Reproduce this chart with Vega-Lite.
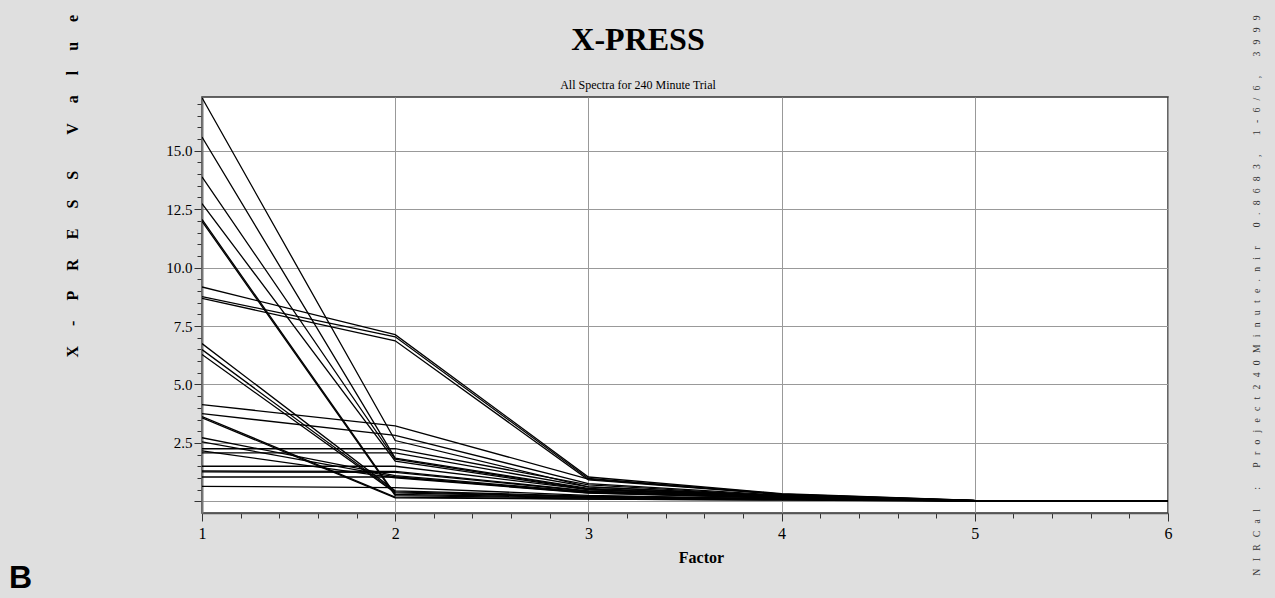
{
  "$schema": "https://vega.github.io/schema/vega-lite/v6.json",
  "autosize": "none",
  "width": 966,
  "height": 416,
  "padding": {"left": 202, "top": 97, "right": 107, "bottom": 85},
  "background": "#dfdfdf",
  "title": {
    "text": "X-PRESS",
    "subtitle": "All Spectra for 240 Minute Trial",
    "font": "Liberation Serif",
    "fontSize": 32,
    "fontWeight": "bold",
    "color": "black",
    "subtitleFont": "Liberation Serif",
    "subtitleFontSize": 12,
    "subtitleColor": "black",
    "anchor": "middle",
    "dx": -47,
    "dy": 86,
    "offset": 8,
    "subtitlePadding": 23
  },
  "config": {
    "view": {"fill": "white", "stroke": "#333", "strokeWidth": 1.5},
    "axis": {
      "labelFont": "Liberation Serif",
      "titleFont": "Liberation Serif",
      "labelColor": "black",
      "titleColor": "black"
    }
  },
  "data": {
    "values": [
      {"id": 1, "factor": 1, "value": 17.27}, {"id": 1, "factor": 2, "value": 2.6}, {"id": 1, "factor": 3, "value": 0.62}, {"id": 1, "factor": 4, "value": 0.24}, {"id": 1, "factor": 5, "value": 0.03}, {"id": 1, "factor": 6, "value": 0.01},
      {"id": 2, "factor": 1, "value": 15.59}, {"id": 2, "factor": 2, "value": 1.85}, {"id": 2, "factor": 3, "value": 0.55}, {"id": 2, "factor": 4, "value": 0.22}, {"id": 2, "factor": 5, "value": 0.03}, {"id": 2, "factor": 6, "value": 0.01},
      {"id": 3, "factor": 1, "value": 13.88}, {"id": 3, "factor": 2, "value": 1.8}, {"id": 3, "factor": 3, "value": 0.52}, {"id": 3, "factor": 4, "value": 0.2}, {"id": 3, "factor": 5, "value": 0.03}, {"id": 3, "factor": 6, "value": 0.01},
      {"id": 4, "factor": 1, "value": 12.74}, {"id": 4, "factor": 2, "value": 1.72}, {"id": 4, "factor": 3, "value": 0.5}, {"id": 4, "factor": 4, "value": 0.19}, {"id": 4, "factor": 5, "value": 0.02}, {"id": 4, "factor": 6, "value": 0.01},
      {"id": 5, "factor": 1, "value": 12.06}, {"id": 5, "factor": 2, "value": 0.3}, {"id": 5, "factor": 3, "value": 0.16}, {"id": 5, "factor": 4, "value": 0.1}, {"id": 5, "factor": 5, "value": 0.02}, {"id": 5, "factor": 6, "value": 0.0},
      {"id": 6, "factor": 1, "value": 11.98}, {"id": 6, "factor": 2, "value": 0.24}, {"id": 6, "factor": 3, "value": 0.14}, {"id": 6, "factor": 4, "value": 0.09}, {"id": 6, "factor": 5, "value": 0.02}, {"id": 6, "factor": 6, "value": 0.0},
      {"id": 7, "factor": 1, "value": 9.17}, {"id": 7, "factor": 2, "value": 7.13}, {"id": 7, "factor": 3, "value": 1.04}, {"id": 7, "factor": 4, "value": 0.33}, {"id": 7, "factor": 5, "value": 0.04}, {"id": 7, "factor": 6, "value": 0.01},
      {"id": 8, "factor": 1, "value": 8.76}, {"id": 8, "factor": 2, "value": 7.04}, {"id": 8, "factor": 3, "value": 0.98}, {"id": 8, "factor": 4, "value": 0.31}, {"id": 8, "factor": 5, "value": 0.04}, {"id": 8, "factor": 6, "value": 0.01},
      {"id": 9, "factor": 1, "value": 8.68}, {"id": 9, "factor": 2, "value": 6.87}, {"id": 9, "factor": 3, "value": 0.92}, {"id": 9, "factor": 4, "value": 0.29}, {"id": 9, "factor": 5, "value": 0.03}, {"id": 9, "factor": 6, "value": 0.01},
      {"id": 10, "factor": 1, "value": 6.75}, {"id": 10, "factor": 2, "value": 0.45}, {"id": 10, "factor": 3, "value": 0.22}, {"id": 10, "factor": 4, "value": 0.12}, {"id": 10, "factor": 5, "value": 0.02}, {"id": 10, "factor": 6, "value": 0.0},
      {"id": 11, "factor": 1, "value": 6.49}, {"id": 11, "factor": 2, "value": 0.4}, {"id": 11, "factor": 3, "value": 0.2}, {"id": 11, "factor": 4, "value": 0.11}, {"id": 11, "factor": 5, "value": 0.02}, {"id": 11, "factor": 6, "value": 0.0},
      {"id": 12, "factor": 1, "value": 6.28}, {"id": 12, "factor": 2, "value": 0.36}, {"id": 12, "factor": 3, "value": 0.18}, {"id": 12, "factor": 4, "value": 0.1}, {"id": 12, "factor": 5, "value": 0.02}, {"id": 12, "factor": 6, "value": 0.0},
      {"id": 13, "factor": 1, "value": 4.14}, {"id": 13, "factor": 2, "value": 3.23}, {"id": 13, "factor": 3, "value": 0.95}, {"id": 13, "factor": 4, "value": 0.3}, {"id": 13, "factor": 5, "value": 0.03}, {"id": 13, "factor": 6, "value": 0.01},
      {"id": 14, "factor": 1, "value": 3.75}, {"id": 14, "factor": 2, "value": 2.82}, {"id": 14, "factor": 3, "value": 0.76}, {"id": 14, "factor": 4, "value": 0.26}, {"id": 14, "factor": 5, "value": 0.03}, {"id": 14, "factor": 6, "value": 0.01},
      {"id": 15, "factor": 1, "value": 3.63}, {"id": 15, "factor": 2, "value": 0.18}, {"id": 15, "factor": 3, "value": 0.1}, {"id": 15, "factor": 4, "value": 0.06}, {"id": 15, "factor": 5, "value": 0.01}, {"id": 15, "factor": 6, "value": 0.0},
      {"id": 16, "factor": 1, "value": 3.57}, {"id": 16, "factor": 2, "value": 0.15}, {"id": 16, "factor": 3, "value": 0.09}, {"id": 16, "factor": 4, "value": 0.05}, {"id": 16, "factor": 5, "value": 0.01}, {"id": 16, "factor": 6, "value": 0.0},
      {"id": 17, "factor": 1, "value": 2.72}, {"id": 17, "factor": 2, "value": 1.1}, {"id": 17, "factor": 3, "value": 0.4}, {"id": 17, "factor": 4, "value": 0.16}, {"id": 17, "factor": 5, "value": 0.02}, {"id": 17, "factor": 6, "value": 0.0},
      {"id": 18, "factor": 1, "value": 2.54}, {"id": 18, "factor": 2, "value": 1.05}, {"id": 18, "factor": 3, "value": 0.38}, {"id": 18, "factor": 4, "value": 0.15}, {"id": 18, "factor": 5, "value": 0.02}, {"id": 18, "factor": 6, "value": 0.0},
      {"id": 19, "factor": 1, "value": 2.25}, {"id": 19, "factor": 2, "value": 2.25}, {"id": 19, "factor": 3, "value": 0.7}, {"id": 19, "factor": 4, "value": 0.23}, {"id": 19, "factor": 5, "value": 0.03}, {"id": 19, "factor": 6, "value": 0.01},
      {"id": 20, "factor": 1, "value": 2.16}, {"id": 20, "factor": 2, "value": 1.0}, {"id": 20, "factor": 3, "value": 0.35}, {"id": 20, "factor": 4, "value": 0.14}, {"id": 20, "factor": 5, "value": 0.02}, {"id": 20, "factor": 6, "value": 0.0},
      {"id": 21, "factor": 1, "value": 2.07}, {"id": 21, "factor": 2, "value": 2.07}, {"id": 21, "factor": 3, "value": 0.62}, {"id": 21, "factor": 4, "value": 0.2}, {"id": 21, "factor": 5, "value": 0.03}, {"id": 21, "factor": 6, "value": 0.01},
      {"id": 22, "factor": 1, "value": 1.5}, {"id": 22, "factor": 2, "value": 1.5}, {"id": 22, "factor": 3, "value": 0.5}, {"id": 22, "factor": 4, "value": 0.18}, {"id": 22, "factor": 5, "value": 0.02}, {"id": 22, "factor": 6, "value": 0.0},
      {"id": 23, "factor": 1, "value": 1.3}, {"id": 23, "factor": 2, "value": 1.28}, {"id": 23, "factor": 3, "value": 0.45}, {"id": 23, "factor": 4, "value": 0.17}, {"id": 23, "factor": 5, "value": 0.02}, {"id": 23, "factor": 6, "value": 0.0},
      {"id": 24, "factor": 1, "value": 1.26}, {"id": 24, "factor": 2, "value": 1.24}, {"id": 24, "factor": 3, "value": 0.43}, {"id": 24, "factor": 4, "value": 0.16}, {"id": 24, "factor": 5, "value": 0.02}, {"id": 24, "factor": 6, "value": 0.0},
      {"id": 25, "factor": 1, "value": 1.04}, {"id": 25, "factor": 2, "value": 1.04}, {"id": 25, "factor": 3, "value": 0.36}, {"id": 25, "factor": 4, "value": 0.14}, {"id": 25, "factor": 5, "value": 0.02}, {"id": 25, "factor": 6, "value": 0.0},
      {"id": 26, "factor": 1, "value": 0.64}, {"id": 26, "factor": 2, "value": 0.59}, {"id": 26, "factor": 3, "value": 0.25}, {"id": 26, "factor": 4, "value": 0.1}, {"id": 26, "factor": 5, "value": 0.01}, {"id": 26, "factor": 6, "value": 0.0}
    ]
  },
  "resolve": {"axis": {"x": "independent", "y": "independent"}},
  "layer": [
    {
      "mark": {"type": "line", "color": "black", "strokeWidth": 1.3, "clip": true},
      "encoding": {
        "x": {
          "field": "factor",
          "type": "quantitative",
          "scale": {"domain": [1, 6], "nice": false, "zero": false},
          "axis": {
            "orient": "bottom",
            "values": [1, 1.2, 1.4, 1.6, 1.8, 2, 2.2, 2.4, 2.6, 2.8, 3, 3.2, 3.4, 3.6, 3.8, 4, 4.2, 4.4, 4.6, 4.8, 5, 5.2, 5.4, 5.6, 5.8, 6],
            "grid": true,
            "gridColor": "#999999",
            "gridWidth": 1,
            "gridOpacity": {"condition": {"test": "abs(datum.value - round(datum.value)) < 0.01", "value": 1}, "value": 0},
            "tickSize": {"condition": {"test": "abs(datum.value - round(datum.value)) < 0.01", "value": 8}, "value": 5},
            "tickColor": "#333333",
            "domainColor": "#555555",
            "domainWidth": 1.5,
            "labelExpr": "abs(datum.value - round(datum.value)) < 0.01 ? format(datum.value, 'd') : ''",
            "labelFlush": false,
            "labelOverlap": false,
            "labelFontSize": 16,
            "labelPadding": 4,
            "title": "Factor",
            "titleFontSize": 16,
            "titleFontWeight": "bold",
            "titleX": 499,
            "titlePadding": 8
          }
        },
        "y": {
          "field": "value",
          "type": "quantitative",
          "scale": {"domain": [-0.5, 17.3], "nice": false, "zero": false},
          "axis": {
            "orient": "left",
            "values": [0, 0.5, 1, 1.5, 2, 2.5, 3, 3.5, 4, 4.5, 5, 5.5, 6, 6.5, 7, 7.5, 8, 8.5, 9, 9.5, 10, 10.5, 11, 11.5, 12, 12.5, 13, 13.5, 14, 14.5, 15, 15.5, 16, 16.5, 17],
            "grid": true,
            "gridColor": "#999999",
            "gridWidth": 1,
            "gridOpacity": {"condition": {"test": "datum.value % 2.5 == 0", "value": 1}, "value": 0},
            "tickSize": {"condition": {"test": "datum.value % 2.5 == 0", "value": 8}, "value": 5},
            "tickColor": "#333333",
            "domainColor": "#777777",
            "domainWidth": 2,
            "labelExpr": "datum.value > 0 && datum.value % 2.5 == 0 ? format(datum.value, '.1f') : ''",
            "labelOverlap": false,
            "labelFontSize": 15,
            "labelPadding": 2,
            "title": "X\u00a0\u00a0\u00a0\u00a0\u00a0-\u00a0\u00a0\u00a0\u00a0\u00a0P\u00a0\u00a0\u00a0\u00a0\u00a0R\u00a0\u00a0\u00a0\u00a0\u00a0E\u00a0\u00a0\u00a0\u00a0\u00a0S\u00a0\u00a0\u00a0\u00a0\u00a0S\u00a0\u00a0\u00a0\u00a0\u00a0\u00a0\u00a0\u00a0\u00a0V\u00a0\u00a0\u00a0\u00a0\u00a0a\u00a0\u00a0\u00a0\u00a0\u00a0l\u00a0\u00a0\u00a0\u00a0\u00a0u\u00a0\u00a0\u00a0\u00a0\u00a0e",
            "titleFontSize": 16,
            "titleFontWeight": "bold",
            "titleAngle": 270,
            "titleAlign": "left",
            "titleBaseline": "middle",
            "titleX": -130,
            "titleY": 260
          }
        },
        "detail": {"field": "id", "type": "nominal"}
      }
    },
    {
      "mark": {"type": "point", "opacity": 0},
      "encoding": {
        "x": {
          "field": "factor",
          "type": "quantitative",
          "axis": {
            "orient": "bottom",
            "labels": false,
            "ticks": false,
            "domain": false,
            "grid": false,
            "title": "B",
            "titleFont": "Liberation Sans",
            "titleFontSize": 32,
            "titleFontWeight": "bold",
            "titleAlign": "center",
            "titleBaseline": "alphabetic",
            "titleX": -182,
            "titleY": 74
          }
        },
        "y": {
          "field": "value",
          "type": "quantitative",
          "axis": {
            "orient": "right",
            "labels": false,
            "ticks": false,
            "domain": false,
            "grid": false,
            "title": "N\u00a0\u00a0\u00a0I\u00a0\u00a0\u00a0R\u00a0\u00a0\u00a0C\u00a0\u00a0\u00a0a\u00a0\u00a0\u00a0l\u00a0\u00a0\u00a0\u00a0\u00a0\u00a0\u00a0\u00a0:\u00a0\u00a0\u00a0\u00a0\u00a0\u00a0\u00a0\u00a0P\u00a0\u00a0\u00a0r\u00a0\u00a0\u00a0o\u00a0\u00a0\u00a0j\u00a0\u00a0\u00a0e\u00a0\u00a0\u00a0c\u00a0\u00a0\u00a0t\u00a0\u00a0\u00a02\u00a0\u00a0\u00a04\u00a0\u00a0\u00a00\u00a0\u00a0\u00a0M\u00a0\u00a0\u00a0i\u00a0\u00a0\u00a0n\u00a0\u00a0\u00a0u\u00a0\u00a0\u00a0t\u00a0\u00a0\u00a0e\u00a0\u00a0\u00a0.\u00a0\u00a0\u00a0n\u00a0\u00a0\u00a0i\u00a0\u00a0\u00a0r\u00a0\u00a0\u00a0\u00a0\u00a0\u00a0\u00a0\u00a00\u00a0\u00a0\u00a0.\u00a0\u00a0\u00a08\u00a0\u00a0\u00a06\u00a0\u00a0\u00a08\u00a0\u00a0\u00a03\u00a0\u00a0\u00a0,\u00a0\u00a0\u00a0\u00a0\u00a0\u00a0\u00a0\u00a01\u00a0\u00a0\u00a0-\u00a0\u00a0\u00a06\u00a0\u00a0\u00a0/\u00a0\u00a0\u00a06\u00a0\u00a0\u00a0,\u00a0\u00a0\u00a0\u00a0\u00a0\u00a0\u00a0\u00a03\u00a0\u00a0\u00a09\u00a0\u00a0\u00a09\u00a0\u00a0\u00a09",
            "titleFont": "Liberation Serif",
            "titleFontSize": 9.7,
            "titleFontWeight": "normal",
            "titleColor": "#333333",
            "titleAngle": 270,
            "titleAlign": "center",
            "titleBaseline": "middle",
            "titleX": 88,
            "titleY": 198
          }
        }
      }
    }
  ]
}
